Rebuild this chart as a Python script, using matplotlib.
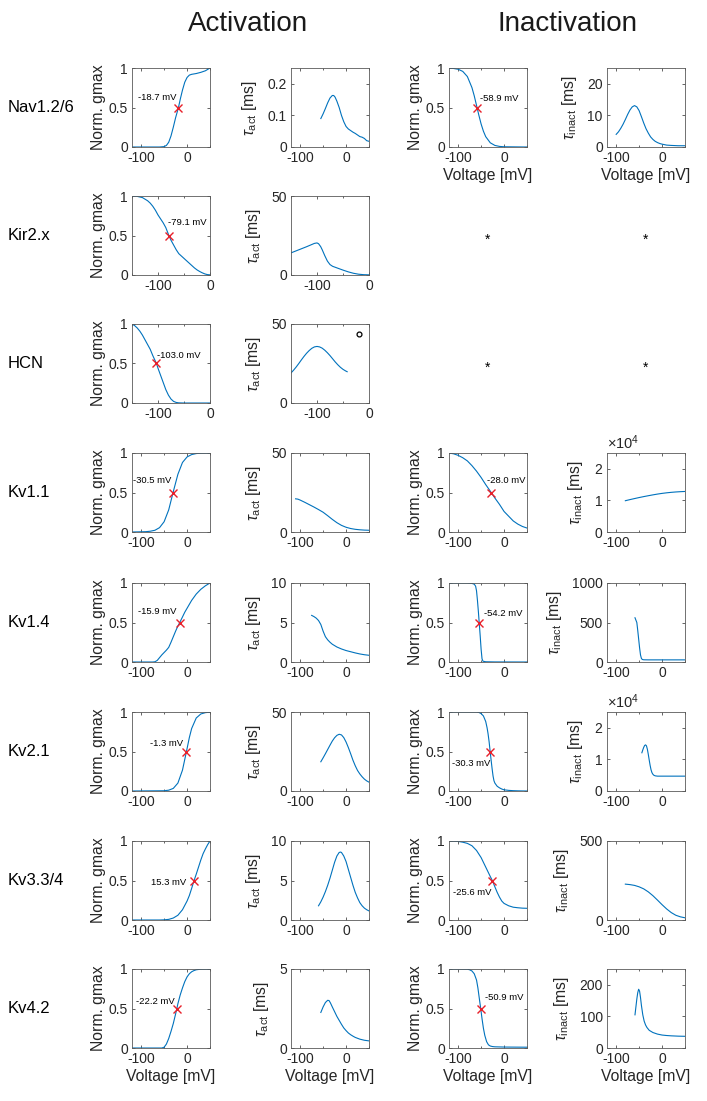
import numpy as np
import matplotlib.pyplot as plt
from matplotlib.ticker import MultipleLocator, FormatStrFormatter

plt.rcParams['font.family'] = ['Liberation Sans', 'DejaVu Sans']
plt.rcParams['mathtext.fontset'] = 'custom'
plt.rcParams['mathtext.rm'] = 'Liberation Sans'
plt.rcParams['mathtext.it'] = 'Liberation Sans:italic'
plt.rcParams['axes.unicode_minus'] = False

channels = ['Nav1.2/6', 'Kir2.x', 'HCN', 'Kv1.1', 'Kv1.4', 'Kv2.1', 'Kv3.3/4', 'Kv4.2']
v_half_act = [-18.7, -79.1, -103.0, -30.5, -15.9, -1.3, 15.3, -22.2]
v_half_inact = [-58.9, None, None, -28.0, -54.2, -30.3, -25.6, -50.9]

# ---- Nav1.2/6
nav_act_v = [-120, -60, -50, -45, -40, -35, -30, -25, -18.7, -15, -10, -5, 0, 5, 10, 20, 30, 40, 50]
nav_act_g = [0, 0, 0.005, 0.02, 0.06, 0.14, 0.25, 0.37, 0.5, 0.6, 0.72, 0.82, 0.88, 0.91, 0.92, 0.93, 0.945, 0.965, 1.0]
nav_tact_v = [-55, -50, -45, -40, -35, -30, -27, -24, -20, -15, -10, -5, 0, 5, 10, 15, 20, 25, 30, 35, 40, 45, 50]
nav_tact = [0.09, 0.105, 0.122, 0.14, 0.155, 0.163, 0.163, 0.158, 0.145, 0.125, 0.1, 0.08, 0.065, 0.057, 0.052,
            0.047, 0.043, 0.038, 0.033, 0.031, 0.027, 0.02, 0.018]
nav_inact_v = [-120, -110, -100, -90, -80, -70, -65, -58.9, -55, -50, -45, -40, -30, -20, -10, 0, 50]
nav_inact_g = [0.998, 0.994, 0.984, 0.957, 0.892, 0.752, 0.648, 0.5, 0.404, 0.291, 0.2, 0.131, 0.053, 0.02, 0.0075, 0.003, 0]
nav_tinact_v = [-100, -95, -90, -85, -80, -75, -70, -65, -60, -55, -50, -45, -40, -35, -30, -25, -20, -15, -10, -5, 0, 10, 20, 35, 50]
nav_tinact = [4.0, 4.8, 5.9, 7.2, 8.7, 10.3, 11.7, 12.7, 13.1, 12.7, 11.5, 9.6, 7.6, 5.8, 4.4, 3.2, 2.4, 1.8, 1.4, 1.1,
              0.9, 0.6, 0.5, 0.4, 0.4]

# ---- Kir2.x
kir_act_v = [-150, -140, -130, -120, -115, -110, -105, -100, -95, -90, -85, -79.1, -75, -70, -65, -60, -55, -50, -45,
             -40, -35, -30, -25, -20, -15, -10, -5, 0]
kir_act_g = [1.0, 0.995, 0.98, 0.94, 0.91, 0.87, 0.82, 0.76, 0.71, 0.66, 0.6, 0.5, 0.44, 0.38, 0.32, 0.27, 0.24, 0.21,
             0.18, 0.15, 0.12, 0.09, 0.065, 0.045, 0.028, 0.014, 0.005, 0.002]
kir_tact_v = [-150, -140, -130, -120, -110, -105, -100, -97, -93, -90, -85, -80, -75, -70, -65, -60, -50, -40, -30, -20, -10, 0]
kir_tact = [14, 15.3, 16.6, 17.9, 19.3, 20.0, 20.3, 19.8, 18.0, 16.0, 12.2, 8.8, 6.6, 5.5, 4.9, 4.3, 3.1, 2.0, 1.1, 0.5, 0.2, 0.1]

# ---- HCN
hcn_act_v = [-150, -145, -140, -135, -130, -125, -120, -115, -110, -103, -100, -95, -90, -85, -80, -75, -70, -65, -60, -50, 0]
hcn_act_g = [1.0, 0.98, 0.95, 0.91, 0.86, 0.8, 0.74, 0.68, 0.6, 0.5, 0.44, 0.35, 0.26, 0.17, 0.1, 0.05, 0.02, 0.007, 0.002, 0, 0]
hcn_tact_v = [-150, -145, -140, -135, -130, -125, -120, -115, -110, -105, -100, -95, -90, -85, -80, -75, -70, -65, -60,
              -55, -50, -45, -42]
hcn_tact = [19, 20.8, 22.8, 25, 27.3, 29.5, 31.5, 33.2, 34.6, 35.5, 35.8, 35.5, 34.7, 33.4, 31.8, 30.0, 28.0, 26.0, 24.2,
            22.6, 21.3, 20.3, 19.8]
hcn_tact_point = (-19, 43.7)

# ---- Kv1.1
kv11_act_v = [-120, -90, -80, -70, -60, -50, -40, -30.5, -20, -10, 0, 10, 20, 30, 50]
kv11_act_g = [0, 0.004, 0.01, 0.022, 0.055, 0.13, 0.28, 0.5, 0.73, 0.88, 0.95, 0.98, 0.993, 0.998, 1.0]
kv11_tact_v = [-110, -105, -100, -90, -80, -70, -60, -50, -40, -30, -20, -10, 0, 10, 20, 30, 40, 50]
kv11_tact = [21, 20.8, 20.2, 18.8, 17.3, 15.8, 14.2, 12.5, 10.3, 8.0, 5.9, 4.2, 3.0, 2.2, 1.7, 1.4, 1.2, 1.1]
kv11_inact_v = [-120, -110, -100, -90, -80, -70, -60, -50, -40, -28, -20, -10, 0, 10, 20, 30, 40, 50]
kv11_inact_g = [1.0, 0.99, 0.97, 0.94, 0.9, 0.84, 0.77, 0.69, 0.6, 0.5, 0.43, 0.35, 0.26, 0.2, 0.14, 0.1, 0.07, 0.05]
kv11_tinact_v = [-80, -70, -60, -50, -40, -30, -20, -10, 0, 10, 20, 30, 40, 50]
kv11_tinact = [9900, 10250, 10580, 10900, 11200, 11480, 11750, 12000, 12220, 12400, 12550, 12670, 12760, 12830]

# ---- Kv1.4
kv14_act_v = [-120, -75, -70, -65, -60, -55, -50, -45, -40, -35, -30, -25, -20, -15.9, -10, -5, 0, 5, 10, 20, 30, 40, 50]
kv14_act_g = [0, 0, 0.003, 0.02, 0.055, 0.09, 0.12, 0.15, 0.185, 0.25, 0.32, 0.39, 0.455, 0.5, 0.57, 0.63, 0.68, 0.73,
              0.78, 0.86, 0.92, 0.965, 1.0]
kv14_tact_v = [-75, -70, -65, -60, -55, -50, -45, -40, -35, -30, -20, -10, 0, 10, 20, 30, 40, 50]
kv14_tact = [5.9, 5.75, 5.55, 5.25, 4.75, 3.9, 3.2, 2.8, 2.5, 2.25, 1.9, 1.65, 1.45, 1.3, 1.15, 1.02, 0.92, 0.85]
kv14_inact_v = [-120, -80, -70, -65, -62, -60, -58, -56, -54.2, -52, -50, -48, -46, -40, -20, 50]
kv14_inact_g = [1.0, 1.0, 0.995, 0.985, 0.96, 0.9, 0.78, 0.64, 0.5, 0.33, 0.16, 0.04, 0.01, 0.003, 0.001, 0]
kv14_tinact_v = [-59, -57, -55, -53, -51, -49, -47, -45, -43, -40, -30, -20, 0, 50]
kv14_tinact = [560, 530, 500, 400, 290, 180, 90, 45, 32, 28, 27, 27, 27, 27]

# ---- Kv2.1
kv21_act_v = [-120, -50, -40, -30, -20, -10, -1.3, 5, 10, 20, 30, 40, 50]
kv21_act_g = [0, 0.003, 0.0104, 0.033, 0.1, 0.264, 0.5, 0.677, 0.791, 0.924, 0.975, 0.992, 0.998]
kv21_tact_v = [-55, -50, -45, -40, -35, -30, -25, -20, -15, -10, -5, 0, 5, 10, 15, 20, 25, 30, 35, 40, 45, 50]
kv21_tact = [18.5, 21, 23.6, 26.3, 29, 31.6, 33.7, 35.2, 35.9, 35.5, 33.8, 31, 27.5, 23.6, 19.5, 16, 13, 10.8, 9.0, 7.5, 6.4, 5.6]
kv21_inact_v = [-120, -60, -55, -50, -45, -40, -37, -35, -32.5, -30.3, -28, -26, -24, -22, -20, -15, -10, -5, 0, 10, 20, 30, 50]
kv21_inact_g = [1, 1, 0.995, 0.98, 0.95, 0.88, 0.8, 0.73, 0.62, 0.5, 0.38, 0.28, 0.19, 0.13, 0.1, 0.06, 0.04, 0.025,
                0.015, 0.008, 0.004, 0.002, 0]
kv21_tinact_v = [-44, -42, -40, -38, -36, -34, -32, -30, -28, -26, -24, -22, -20, -18, -15, -10, 0, 50]
kv21_tinact = [12100, 13000, 13800, 14400, 14600, 14300, 13200, 11600, 9800, 8100, 6700, 5800, 5300, 5000, 4800, 4700,
               4700, 4700]

# ---- Kv3.3/4
kv33_act_v = [-120, -60, -50, -40, -30, -20, -10, 0, 5, 10, 15.3, 20, 25, 30, 35, 40, 45, 50]
kv33_act_g = [0, 0, 0.002, 0.008, 0.025, 0.06, 0.13, 0.24, 0.31, 0.4, 0.5, 0.58, 0.67, 0.76, 0.84, 0.9, 0.955, 1.0]
kv33_tact_v = [-60, -55, -50, -45, -40, -35, -30, -25, -20, -15, -12, -10, -5, 0, 5, 10, 15, 20, 25, 30, 35, 40, 45, 50]
kv33_tact = [1.8, 2.3, 2.9, 3.6, 4.4, 5.3, 6.3, 7.3, 8.1, 8.55, 8.6, 8.55, 8.1, 7.4, 6.4, 5.4, 4.4, 3.5, 2.8, 2.2, 1.8,
             1.5, 1.3, 1.15]
kv33_inact_v = [-120, -100, -90, -80, -70, -60, -50, -40, -30, -25.6, -20, -15, -10, -5, 0, 10, 20, 30, 40, 50]
kv33_inact_g = [1, 0.995, 0.985, 0.97, 0.94, 0.88, 0.79, 0.67, 0.55, 0.5, 0.42, 0.35, 0.29, 0.24, 0.21, 0.18, 0.162,
                0.155, 0.15, 0.148]
kv33_tinact_v = [-80, -70, -60, -50, -40, -30, -20, -10, 0, 10, 20, 30, 40, 50]
kv33_tinact = [227, 224, 219, 210, 197, 178, 154, 126, 97, 70, 47, 30, 20, 14]

# ---- Kv4.2
kv42_act_v = [-120, -55, -50, -45, -40, -35, -30, -25, -22.2, -20, -15, -10, -5, 0, 5, 10, 15, 20, 30, 50]
kv42_act_g = [0, 0, 0.01, 0.05, 0.12, 0.21, 0.31, 0.43, 0.5, 0.56, 0.67, 0.76, 0.84, 0.9, 0.94, 0.965, 0.98, 0.99, 0.998, 1.0]
kv42_tact_v = [-55, -50, -45, -40, -37, -34, -30, -25, -20, -15, -10, -5, 0, 5, 10, 15, 20, 30, 40, 50]
kv42_tact = [2.25, 2.6, 2.88, 3.02, 3.0, 2.85, 2.6, 2.3, 2.0, 1.75, 1.5, 1.27, 1.1, 0.95, 0.84, 0.75, 0.67, 0.56, 0.49, 0.45]
kv42_inact_v = [-120, -80, -75, -70, -65, -60, -57, -54, -50.9, -48, -45, -42, -38, -34, -30, -25, -20, 0, 50]
kv42_inact_g = [1, 0.998, 0.99, 0.975, 0.94, 0.86, 0.76, 0.63, 0.5, 0.37, 0.25, 0.16, 0.08, 0.04, 0.025, 0.018, 0.015,
                0.012, 0.01]
kv42_tinact_v = [-59, -57, -55, -53, -51, -49, -47, -45, -42, -39, -36, -33, -28, -20, -10, 0, 10, 20, 35, 50]
kv42_tinact = [105, 130, 155, 175, 186, 180, 160, 135, 105, 85, 73, 65, 56, 49, 44, 41, 39.5, 38.5, 37.5, 37]

act_curves = [(nav_act_v, nav_act_g), (kir_act_v, kir_act_g), (hcn_act_v, hcn_act_g), (kv11_act_v, kv11_act_g),
              (kv14_act_v, kv14_act_g), (kv21_act_v, kv21_act_g), (kv33_act_v, kv33_act_g), (kv42_act_v, kv42_act_g)]
tact_curves = [(nav_tact_v, nav_tact), (kir_tact_v, kir_tact), (hcn_tact_v, hcn_tact), (kv11_tact_v, kv11_tact),
               (kv14_tact_v, kv14_tact), (kv21_tact_v, kv21_tact), (kv33_tact_v, kv33_tact), (kv42_tact_v, kv42_tact)]
inact_curves = [(nav_inact_v, nav_inact_g), None, None, (kv11_inact_v, kv11_inact_g), (kv14_inact_v, kv14_inact_g),
                (kv21_inact_v, kv21_inact_g), (kv33_inact_v, kv33_inact_g), (kv42_inact_v, kv42_inact_g)]
tinact_curves = [(nav_tinact_v, nav_tinact), None, None, (kv11_tinact_v, kv11_tinact), (kv14_tinact_v, kv14_tinact),
                 (kv21_tinact_v, kv21_tinact), (kv33_tinact_v, kv33_tinact), (kv42_tinact_v, kv42_tinact)]

# axis ranges / ticks per row
tact_ylim = [0.25, 50, 50, 50, 10, 50, 10, 5]
tact_yticks = [[0, 0.1, 0.2], [0, 50], [0, 50], [0, 50], [0, 5, 10], [0, 50], [0, 5, 10], [0, 5]]
tinact_ylim = [25, None, None, 2.5e4, 1000, 2.5e4, 500, 250]
tinact_yticks = [[0, 10, 20], None, None, [0, 1e4, 2e4], [0, 500, 1000], [0, 1e4, 2e4], [0, 500], [0, 100, 200]]

# label placement (x in mV, y, alignment)
act_lbl = [(-22.5, 0.63, 'right'), (-80, 0.66, 'left'), (-101.5, 0.6, 'left'), (-35, 0.65, 'right'),
           (-22.5, 0.64, 'right'), (-9.5, 0.6, 'right'), (-1, 0.47, 'right'), (-26.3, 0.59, 'right')]
inact_lbl = [(-52.4, 0.61, 'left'), None, None, (-37.8, 0.655, 'left'), (-43.7, 0.62, 'left'),
             (-29, 0.35, 'right'), (-27, 0.353, 'right'), (-41.5, 0.64, 'left')]

W, H = 707, 1101
fig = plt.figure(figsize=(W / 100, H / 100), dpi=100)
col_left = [132, 291, 449, 607]
row_top = [68, 196, 324, 453, 583, 712, 841, 969]
aw, ah = 78, 79
blue = '#0072BD'
dark = '#262626'
tick_fs = 10
label_fs = 11.3


def make_ax(r, c):
    return fig.add_axes([col_left[c] / W, 1 - (row_top[r] + ah) / H, aw / W, ah / H])


def style(ax, xlim, ylim, yticks, sci=False):
    ax.set_xlim(xlim)
    ax.set_ylim(ylim)
    ax.set_xticks([-100, 0])
    ax.xaxis.set_minor_locator(MultipleLocator(50))
    ax.set_yticks(yticks)
    ax.xaxis.set_major_formatter(FormatStrFormatter('%g'))
    if sci:
        ax.ticklabel_format(axis='y', style='sci', scilimits=(0, 0), useMathText=True)
        ax.yaxis.get_offset_text().set_fontsize(10.5)
        ax.yaxis.get_offset_text().set_color(dark)
    else:
        ax.yaxis.set_major_formatter(FormatStrFormatter('%g'))
    ax.tick_params(which='both', direction='in', top=True, right=True, width=0.5,
                   colors=dark, labelsize=tick_fs, pad=3)
    ax.tick_params(which='major', length=2.5)
    ax.tick_params(which='minor', length=1.5)
    for s in ax.spines.values():
        s.set_color('#5a5a5a')
        s.set_linewidth(0.6)


def volt_label(ax):
    ax.set_xlabel('Voltage [mV]', fontsize=label_fs, color=dark, labelpad=2)


for r, name in enumerate(channels):
    xl = (-150, 0) if name in ('Kir2.x', 'HCN') else (-120, 50)
    last = r == len(channels) - 1

    # activation
    ax = make_ax(r, 0)
    v, g = act_curves[r]
    ax.plot(v, g, color=blue, lw=0.8)
    ax.plot(v_half_act[r], 0.5, 'x', color='#E8202A', ms=6, mew=1)
    tx, ty, ha = act_lbl[r]
    ax.text(tx, ty, '%.1f mV' % v_half_act[r], fontsize=6.8, ha=ha, va='center', color='k')
    style(ax, xl, (0, 1), [0, 0.5, 1])
    ax.set_ylabel('Norm. gmax', fontsize=label_fs, color=dark, labelpad=2)
    if last:
        volt_label(ax)

    ax = make_ax(r, 1)
    v, t = tact_curves[r]
    ax.plot(v, t, color=blue, lw=0.8)
    if name == 'HCN':
        ax.plot(*hcn_tact_point, 'o', mfc='none', mec='k', ms=3.5, mew=0.9)
    style(ax, xl, (0, tact_ylim[r]), tact_yticks[r])
    ax.set_ylabel(r'$\tau_{\mathrm{act}}$ [ms]', fontsize=label_fs, color=dark, labelpad=6)
    if last:
        volt_label(ax)

    # inactivation
    yc = 1 - (row_top[r] + ah / 2 + 4) / H
    if inact_curves[r] is None:
        for c in (2, 3):
            fig.text((col_left[c] + aw / 2) / W, yc, '*', fontsize=10, ha='center', va='center')
        continue

    ax = make_ax(r, 2)
    v, g = inact_curves[r]
    ax.plot(v, g, color=blue, lw=0.8)
    ax.plot(v_half_inact[r], 0.5, 'x', color='#E8202A', ms=6, mew=1)
    tx, ty, ha = inact_lbl[r]
    ax.text(tx, ty, '%.1f mV' % v_half_inact[r], fontsize=6.8, ha=ha, va='center', color='k')
    style(ax, (-120, 50), (0, 1), [0, 0.5, 1])
    ax.set_ylabel('Norm. gmax', fontsize=label_fs, color=dark, labelpad=2)
    if r == 0 or last:
        volt_label(ax)

    ax = make_ax(r, 3)
    v, t = tinact_curves[r]
    ax.plot(v, t, color=blue, lw=0.8)
    style(ax, (-120, 50), (0, tinact_ylim[r]), tinact_yticks[r], sci=tinact_ylim[r] > 5000)
    ax.set_ylabel(r'$\tau_{\mathrm{inact}}$ [ms]', fontsize=label_fs, color=dark, labelpad=6)
    if r == 0 or last:
        volt_label(ax)

for r, name in enumerate(channels):
    fig.text(8 / W, 1 - (row_top[r] + ah / 2) / H, name, fontsize=12, ha='left', va='center', color='k')

fig.text(248 / W, 1 - 24 / H, 'Activation', fontsize=20, ha='center', va='center', color='#1a1a1a')
fig.text(567 / W, 1 - 24 / H, 'Inactivation', fontsize=20, ha='center', va='center', color='#1a1a1a')

fig.savefig('out.png', dpi=100)
